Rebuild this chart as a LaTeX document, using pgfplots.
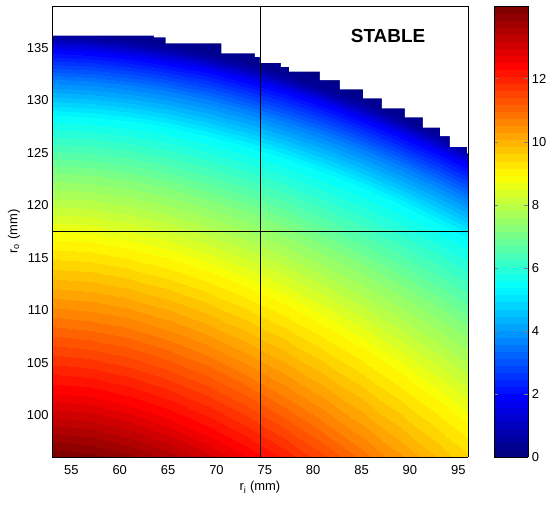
\documentclass[border=0pt]{standalone}
\usepackage{fontspec}
\setmainfont{Liberation Sans}
\usepackage{pgfplots}
\pgfplotsset{compat=1.18}
\begin{document}
\begin{tikzpicture}
\path[use as bounding box] (0,0) rectangle (550bp,508bp);
\begin{axis}[
  at={(52bp,51bp)}, anchor=south west,
  scale only axis, width=416bp, height=451bp,
  view={0}{90},
  xmin=53, xmax=96, ymin=96, ymax=139,
  xtick={55,60,...,95}, ytick={100,105,...,135},
  major tick length=0pt,
  axis on top,
  axis line style={line width=0.8bp},
  tick label style={font=\fontsize{13}{15}\selectfont},
  xticklabel style={yshift=-5bp},
  /pgf/number format/assume math mode=true,
  xlabel={r\textsubscript{i} (mm)}, ylabel={r\textsubscript{o} (mm)},
  label style={font=\fontsize{13}{15}\selectfont},
  colormap/jet,
  point meta min=0, point meta max=14.3,
  colorbar,
  colorbar style={
    at={(parent axis.north east)}, anchor=north west, xshift=18bp,
    width=34bp,
    ytick={0,2,...,12},
    major tick length=4bp,
    tick align=inside,
    ytick pos=both, yticklabel pos=right,
    axis line style={line width=0.8bp},
    tick label style={font=\fontsize{13}{15}\selectfont},
    /pgf/number format/assume math mode=true,
  },
]
% malla curvilinea: cada fila es una curva de nivel leida (x = r_i, y = r_o, z)
\addplot3[contour filled={number=64}, mesh/cols=12] table {
x y z
53 92.00 15.5
57 91.62 15.5
61 90.69 15.5
65 89.27 15.5
69 87.42 15.5
73 85.16 15.5
77 82.51 15.5
81 79.47 15.5
85 76.07 15.5
89 72.30 15.5
93 68.19 15.5
96 64.87 15.5
53 96.00 14.3
57 95.65 14.3
61 94.76 14.3
65 93.43 14.3
69 91.69 14.3
73 89.55 14.3
77 87.05 14.3
81 84.19 14.3
85 80.98 14.3
89 77.44 14.3
93 73.56 14.3
96 70.44 14.3
53 102.10 12.5
57 101.77 12.5
61 100.96 12.5
65 99.74 12.5
69 98.14 12.5
73 96.18 12.5
77 93.88 12.5
81 91.26 12.5
85 88.31 12.5
89 85.05 12.5
93 81.49 12.5
96 78.63 12.5
53 109.40 10.7
57 109.10 10.7
61 108.37 10.7
65 107.25 10.7
69 105.79 10.7
73 104.01 10.7
77 101.91 10.7
81 99.52 10.7
85 96.84 10.7
89 93.87 10.7
93 90.62 10.7
96 88.01 10.7
53 116.70 8.94
57 116.46 8.94
61 115.85 8.94
65 114.94 8.94
69 113.74 8.94
73 112.28 8.94
77 110.57 8.94
81 108.60 8.94
85 106.40 8.94
89 103.97 8.94
93 101.31 8.94
96 99.17 8.94
53 123.10 7.15
57 122.90 7.15
61 122.39 7.15
65 121.63 7.15
69 120.64 7.15
73 119.42 7.15
77 117.99 7.15
81 116.35 7.15
85 114.52 7.15
89 112.49 7.15
93 110.28 7.15
96 108.49 7.15
53 128.60 5.36
57 128.44 5.36
61 128.03 5.36
65 127.43 5.36
69 126.63 5.36
73 125.65 5.36
77 124.51 5.36
81 123.20 5.36
85 121.74 5.36
89 120.11 5.36
93 118.34 5.36
96 116.92 5.36
53 132.00 3.57
57 131.84 3.57
61 131.46 3.57
65 130.87 3.57
69 130.10 3.57
73 129.16 3.57
77 128.06 3.57
81 126.79 3.57
85 125.38 3.57
89 123.82 3.57
93 122.11 3.57
96 120.73 3.57
53 134.80 1.8
57 134.65 1.8
61 134.27 1.8
65 133.70 1.8
69 132.95 1.8
73 132.04 1.8
77 130.97 1.8
81 129.74 1.8
85 128.37 1.8
89 126.84 1.8
93 125.18 1.8
96 123.85 1.8
53 136.10 0.5
57 135.95 0.5
61 135.57 0.5
65 135.00 0.5
69 134.25 0.5
73 133.34 0.5
77 132.27 0.5
81 131.04 0.5
85 129.67 0.5
89 128.14 0.5
93 126.48 0.5
96 125.15 0.5
53 138.00 -1.0
57 137.85 -1.0
61 137.47 -1.0
65 136.90 -1.0
69 136.15 -1.0
73 135.24 -1.0
77 134.17 -1.0
81 132.94 -1.0
85 131.57 -1.0
89 130.04 -1.0
93 128.38 -1.0
96 127.05 -1.0
};
% zona estable (sin datos)
\addplot[fill=white, draw=none] coordinates {
(53,139) (53,136.17) (63.54,136.17) (63.54,136.02) (64.75,136.02)
(64.75,135.44) (70.5,135.44) (70.5,134.49) (73.98,134.49) (73.98,134.14)
(74.5,134.14) (74.5,133.59) (76.67,133.59) (76.67,133.2) (77.5,133.2)
(77.5,132.74) (80.7,132.74) (80.7,131.94) (82.77,131.94) (82.77,131.06)
(85.15,131.06) (85.15,130.2) (87.11,130.2) (87.11,129.25) (89.49,129.25)
(89.49,128.39) (91.35,128.39) (91.35,127.4) (93.11,127.4) (93.11,126.6)
(94.14,126.6) (94.14,125.58) (95.9,125.58) (95.9,124.96) (96,124.96)
(96,139)
};
\addplot[black, line width=0.8bp] coordinates {(74.5,96) (74.5,139)};
\addplot[black, line width=0.8bp] coordinates {(53,117.5) (96,117.5)};
\node[font=\bfseries\fontsize{19}{22}\selectfont] at (axis description cs:0.808,0.933) {STABLE};
\end{axis}
\end{tikzpicture}
\end{document}
